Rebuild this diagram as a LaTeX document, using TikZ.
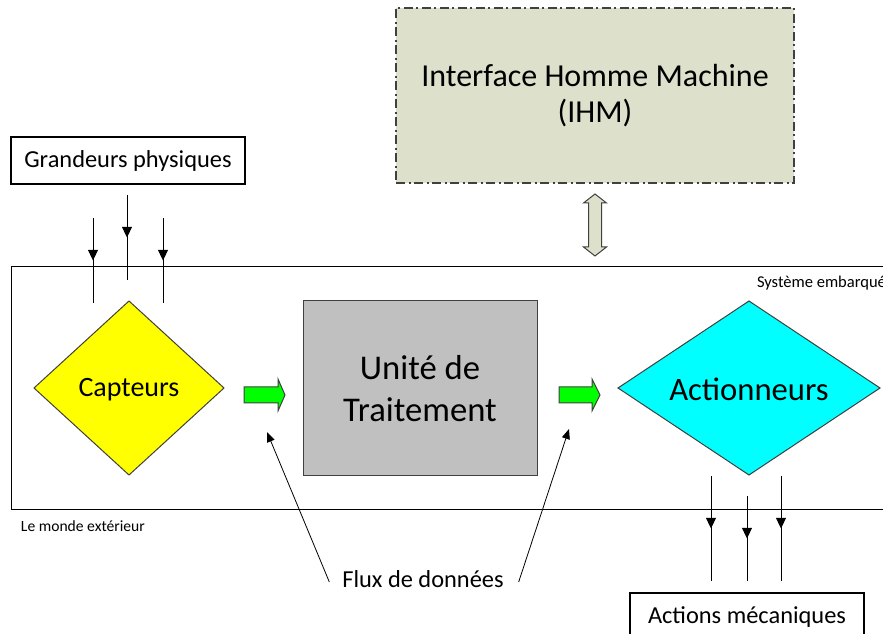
\documentclass[tikz,border=0pt]{standalone}
\usepackage{fontspec}
\setmainfont{Carlito}
\usetikzlibrary{arrows.meta,shapes.geometric,decorations.markings}

\definecolor{ihmfill}{HTML}{DDE0CB}
\definecolor{darkline}{HTML}{404040}
\definecolor{unitgray}{HTML}{C0C0C0}
\definecolor{flowgreen}{HTML}{00FF00}
\definecolor{sensoryellow}{HTML}{FFFF00}
\definecolor{actuatorcyan}{HTML}{00FFFF}

\tikzset{
  every node/.style={inner sep=0pt, outer sep=0pt},
  txtbox/.style={draw=black, line width=0.8pt, minimum width=175.5pt, minimum height=35.25pt,
    font=\fontsize{18.3}{22}\selectfont},
  shapeline/.style={draw=darkline, line width=0.75pt},
  midarrow/.style={line width=0.75pt, postaction={decorate},
    decoration={markings, mark=at position 0.5 with {\arrow{Triangle[length=8pt,width=7.5pt]}}}},
  pointer/.style={line width=0.6pt, -{Triangle[length=7.5pt,width=6pt]}},
  blockarrow/.style={draw=darkline, line width=0.75pt, fill=flowgreen},
}

\begin{document}
\begin{tikzpicture}[x=0.75pt, y=-0.75pt]
  \useasboundingbox (0,0) rectangle (883,634);

  % embedded system frame (runs past the right edge)
  \draw[line width=0.75pt] (900,267) -- (11,267) -- (11,510) -- (900,510);
  \node[font=\fontsize{12.4}{14}\selectfont, anchor=base west] (sys) at (757,288) {Système embarqué};
  \node[font=\fontsize{11.7}{14}\selectfont, anchor=base west] (ext) at (21,532) {Le monde extérieur};

  % human-machine interface
  \node[draw=darkline, line width=0.9pt, dash pattern=on 7pt off 2.5pt on 1.5pt off 2.5pt,
        fill=ihmfill, minimum width=298.5pt, minimum height=131.25pt,
        font=\fontsize{24}{27}\selectfont, align=center] (ihm) at (595,95.5)
        {Interface Homme Machine\\(IHM)};

  % two-way link between the interface and the system
  \draw[draw=darkline, line width=0.75pt, fill=ihmfill]
    (595,194) -- (606.5,203) -- (601.5,203) -- (601.5,247) -- (606.5,247) -- (595,256)
    -- (583.5,247) -- (588.5,247) -- (588.5,203) -- (583.5,203) -- cycle;

  % physical inputs
  \node[txtbox] (gp) at (128,160.5) {Grandeurs physiques};
  \coordinate (in1a) at (93,218);  \coordinate (in1b) at (93,303);
  \coordinate (in2a) at (127,195); \coordinate (in2b) at (127,280);
  \coordinate (in3a) at (163,218); \coordinate (in3b) at (163,303);
  \draw[midarrow] (in1a) -- (in1b);
  \draw[midarrow] (in2a) -- (in2b);
  \draw[midarrow] (in3a) -- (in3b);

  % processing chain
  \node[diamond, shapeline, fill=sensoryellow, minimum width=142.5pt, minimum height=130.5pt]
        (capt) at (129,388) {};
  \node[font=\fontsize{21}{25}\selectfont] (captlabel) at (129,390) {Capteurs};
  \node[shapeline, fill=unitgray, minimum width=175.5pt, minimum height=131.25pt,
        font=\fontsize{26}{31.5}\selectfont, align=center] (ut) at (420,388.5)
        {Unité de\\Traitement};
  \node[diamond, shapeline, fill=actuatorcyan, minimum width=196.5pt, minimum height=130.5pt]
        (act) at (749,388) {};
  \node[font=\fontsize{24.5}{28}\selectfont] (actlabel) at (749,389) {Actionneurs};

  % data flow block arrows
  \draw[blockarrow] (244,387) -- (278,387) -- (278,379) -- (285,395) -- (278,411)
    -- (278,403) -- (244,403) -- cycle;
  \draw[blockarrow] (559,387) -- (592,387) -- (592,379) -- (600,395) -- (592,411)
    -- (592,403) -- (559,403) -- cycle;

  % data flow caption
  \node[font=\fontsize{18.3}{22}\selectfont, anchor=base] (flux) at (423,588) {Flux de données};
  \coordinate (f1) at (267,432);
  \coordinate (f2) at (569,429);
  \draw[pointer] ([xshift=-9.75pt, yshift=4.5pt]flux.base west) -- (f1);
  \draw[pointer] ([xshift=11.25pt, yshift=4.5pt]flux.base east) -- (f2);

  % mechanical outputs
  \coordinate (out1a) at (711,476); \coordinate (out1b) at (711,581);
  \coordinate (out2a) at (747,496); \coordinate (out2b) at (747,581);
  \coordinate (out3a) at (781,476); \coordinate (out3b) at (781,581);
  \draw[midarrow] (out1a) -- (out1b);
  \draw[midarrow] (out2a) -- (out2b);
  \draw[midarrow] (out3a) -- (out3b);
  \node[txtbox, minimum height=36pt] (am) at (747,617) {Actions mécaniques};
\end{tikzpicture}
\end{document}
